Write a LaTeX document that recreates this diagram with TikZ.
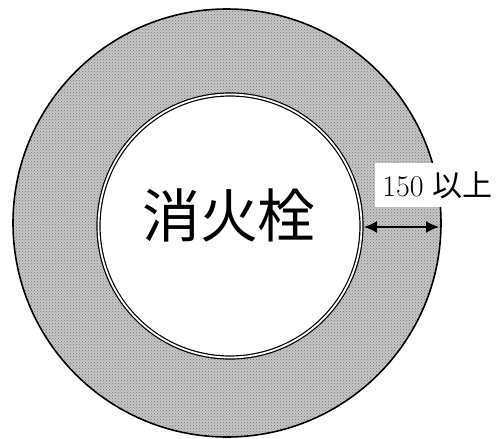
\documentclass[tikz,border=0pt]{standalone}
\usepackage{fontspec}
\newfontfamily\cjk{Noto Sans CJK JP}
\usetikzlibrary{arrows.meta,patterns}
\begin{document}
\begin{tikzpicture}[x=1pt,y=-1pt,
  ring/.style={draw=black, line width=1.6pt, fill=black!22},
  hole/.style={draw=black, line width=1.2pt, double=white, double distance=1.8pt, fill=white},
  dim/.style={line width=1.6pt, {Latex[length=13pt,width=12pt]}-{Latex[length=13pt,width=12pt]}},
  lbl/.style={fill=white, inner sep=0pt, minimum width=125pt, minimum height=44pt, font=\fontsize{30}{30}\selectfont}
]
\useasboundingbox (0,0) rectangle (504,439);
\fill[white] (0,0) rectangle (504,439);
\node[ring, circle, minimum size=428pt, inner sep=0pt] (outer) at (227,223) {};
\fill[pattern=crosshatch dots, pattern color=black!55] (outer.center) circle (213pt);
\node[hole, circle, minimum size=263pt, inner sep=0pt] (inner) at (230,226) {};
\node[font=\cjk\fontsize{58}{58}\selectfont] (name) at (229,215) {消火栓};
\node[lbl] (label) at (437.5,185) {150 {\cjk 以上}};
\coordinate (a) at (364,227);
\coordinate (b) at (439,227);
\draw[dim] (a) -- (b);
\end{tikzpicture}
\end{document}
